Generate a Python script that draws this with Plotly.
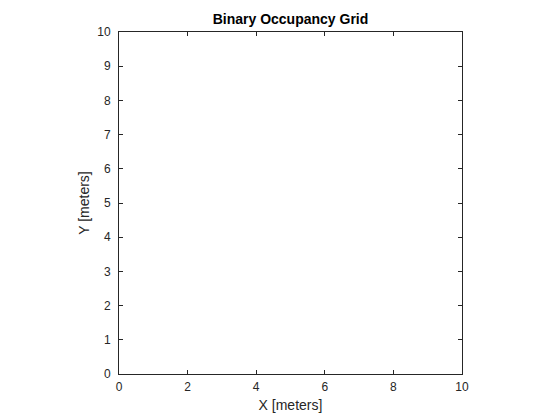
import plotly.graph_objects as go

# occupancy values, one cell per meter (all free)
occupancy = [
    [0, 0, 0, 0, 0, 0, 0, 0, 0, 0],
    [0, 0, 0, 0, 0, 0, 0, 0, 0, 0],
    [0, 0, 0, 0, 0, 0, 0, 0, 0, 0],
    [0, 0, 0, 0, 0, 0, 0, 0, 0, 0],
    [0, 0, 0, 0, 0, 0, 0, 0, 0, 0],
    [0, 0, 0, 0, 0, 0, 0, 0, 0, 0],
    [0, 0, 0, 0, 0, 0, 0, 0, 0, 0],
    [0, 0, 0, 0, 0, 0, 0, 0, 0, 0],
    [0, 0, 0, 0, 0, 0, 0, 0, 0, 0],
    [0, 0, 0, 0, 0, 0, 0, 0, 0, 0],
]
cell_centers = [0.5, 1.5, 2.5, 3.5, 4.5, 5.5, 6.5, 7.5, 8.5, 9.5]
x_ticks = [0, 2, 4, 6, 8, 10]
y_ticks = [0, 1, 2, 3, 4, 5, 6, 7, 8, 9, 10]

FONT = "Liberation Sans, Arial, Helvetica, sans-serif"
AX = "#262626"

fig = go.Figure(
    go.Heatmap(
        z=occupancy,
        x=cell_centers,
        y=cell_centers,
        zmin=0,
        zmax=1,
        colorscale=[[0, "#FFFFFF"], [1, "#000000"]],
        showscale=False,
        hoverinfo="skip",
    )
)

axis_common = dict(
    range=[0, 10],
    showgrid=False,
    zeroline=False,
    showline=True,
    linecolor=AX,
    linewidth=1,
    mirror="ticks",
    ticks="inside",
    ticklen=4,
    tickcolor=AX,
    tickfont=dict(family=FONT, size=12, color=AX),
)

fig.update_layout(
    width=560,
    height=420,
    paper_bgcolor="#FFFFFF",
    plot_bgcolor="#FFFFFF",
    margin=dict(l=111, r=106, t=24, b=54),
    title=dict(
        text="<b>Binary Occupancy Grid</b>",
        x=0.5,
        xref="paper",
        xanchor="center",
        y=1 - 11 / 420,
        yanchor="middle",
        font=dict(family=FONT, size=14, color="#000000"),
    ),
    xaxis=dict(
        **axis_common,
        tickvals=x_ticks,
        ticklabelstandoff=2,
        title=dict(text="X [meters]", font=dict(family=FONT, size=14, color=AX), standoff=6),
    ),
    yaxis=dict(
        **axis_common,
        tickvals=y_ticks,
        ticklabelstandoff=5,
        title=dict(text="Y [meters]", font=dict(family=FONT, size=14, color=AX), standoff=4),
    ),
    showlegend=False,
)

fig.write_html("out.html")
